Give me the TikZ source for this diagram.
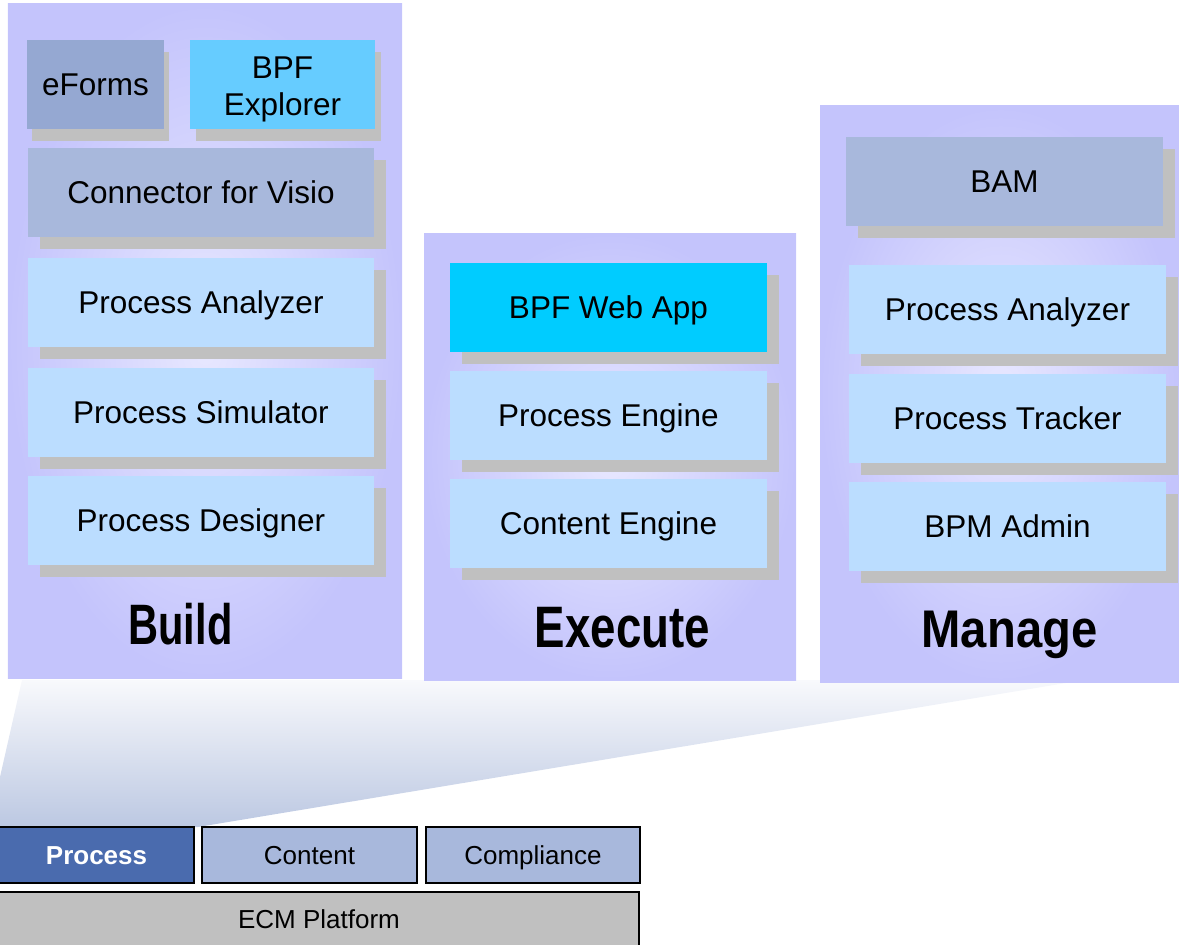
\documentclass[tikz,border=0pt]{standalone}
\usepackage{graphicx}
\usepackage{fontspec}
\setmainfont{Liberation Sans}
\usetikzlibrary{positioning,shadows}

\definecolor{panelbase}{HTML}{C4C4FC}
\definecolor{panellight}{HTML}{E8E8FF}
\definecolor{shadowgray}{HTML}{C0C0C0}
\definecolor{lightbox}{HTML}{BBDDFF}
\definecolor{greybox}{HTML}{A8B8DC}
\definecolor{eformsbox}{HTML}{95A8D2}
\definecolor{explorerbox}{HTML}{66CCFF}
\definecolor{webappbox}{HTML}{00CCFF}
\definecolor{processbox}{HTML}{4A6BAE}
\definecolor{gradtop}{HTML}{F8F9FC}
\definecolor{gradbot}{HTML}{BCC8E2}

\newcommand{\biglabel}[3]{\scalebox{#2}[1]{\fontsize{#1}{#1}\selectfont\bfseries #3}}

\tikzset{
  panel/.style={inner color=panellight, outer color=panelbase, inner sep=0pt},
  appbox/.style={rectangle, inner sep=0pt, minimum height=89bp, align=center,
    font=\fontsize{31.5bp}{37bp}\selectfont, text height=28bp, text depth=6bp,
    drop shadow={shadow xshift=#1, shadow yshift=-12bp, fill=shadowgray, opacity=1}},
  appbox/.default=12bp,
  layerbox/.style={draw=black, line width=1.5bp, inner sep=0pt, minimum height=56bp,
    font=\fontsize{26bp}{30bp}\selectfont, text height=23bp, text depth=4.5bp}
}

\begin{document}
\begin{tikzpicture}[x=1bp,y=-1bp]
  \useasboundingbox (0,0) rectangle (1179,945);

  % fan from the layer bar up to the panels
  \shade[top color=gradtop, bottom color=gradbot]
    (22,680) -- (1084,680) -- (198,827) -- (0,827) -- (0,777) -- cycle;

  % the three panels
  \node[panel, minimum width=394bp, minimum height=674bp] (buildpanel) at (205,341) {};
  \node[panel, minimum width=372bp, minimum height=447bp] (execpanel) at (610,456.5) {};
  \node[panel, minimum width=361bp, minimum height=576bp] (managepanel) at (1000.5,394) {};

  % build
  \node[appbox=5bp, fill=eformsbox, minimum width=137bp] (eforms) at (95.5,84.5) {eForms};
  \node[appbox=6bp, fill=explorerbox, minimum width=185bp, text height=68bp, text depth=6.4bp] (explorer) at (282.5,84.5) {BPF\\Explorer};
  \node[appbox, fill=greybox, minimum width=346bp] (visio) at (201,192.5) {Connector for Visio};
  \node[appbox, fill=lightbox, minimum width=346bp, below=21bp of visio] (banalyzer) {Process Analyzer};
  \node[appbox, fill=lightbox, minimum width=346bp, below=20bp of banalyzer] (bsimulator) {Process Simulator};
  \node[appbox, fill=lightbox, minimum width=346bp, below=19bp of bsimulator] (bdesigner) {Process Designer};
  \node[anchor=base] (buildlabel) at (180.5,644) {\biglabel{57bp}{0.73}{Build}};

  % execute
  \node[appbox, fill=webappbox, minimum width=317bp] (webapp) at (608.5,307.5) {BPF Web App};
  \node[appbox, fill=lightbox, minimum width=317bp, below=19bp of webapp] (pengine) {Process Engine};
  \node[appbox, fill=lightbox, minimum width=317bp, below=18bp of pengine] (cengine) {Content Engine};
  \node[anchor=base] (execlabel) at (622.5,647) {\biglabel{58.5bp}{0.78}{Execute}};

  % manage
  \node[appbox, fill=greybox, minimum width=317bp] (bam) at (1004.5,181.5) {BAM};
  \node[appbox, fill=lightbox, minimum width=317bp, below=39bp of bam, xshift=3bp] (manalyzer) {Process Analyzer};
  \node[appbox, fill=lightbox, minimum width=317bp, below=19bp of manalyzer] (tracker) {Process Tracker};
  \node[appbox, fill=lightbox, minimum width=317bp, below=19bp of tracker] (bpmadmin) {BPM Admin};
  \node[anchor=base] (managelabel) at (1009.5,647) {\biglabel{53bp}{0.89}{Manage}};

  % layers
  \node[layerbox, fill=processbox, text=white, minimum width=195bp, font=\fontsize{26bp}{30bp}\selectfont\bfseries] (process) at (96.5,855) {Process};
  \node[layerbox, fill=greybox, minimum width=215bp] (content) at (309.5,855) {Content};
  \node[layerbox, fill=greybox, minimum width=214bp] (compliance) at (533,855) {Compliance};
  \node[layerbox, fill=shadowgray, minimum width=640bp, minimum height=55bp] (ecm) at (319,919.5) {ECM Platform};
\end{tikzpicture}
\end{document}
